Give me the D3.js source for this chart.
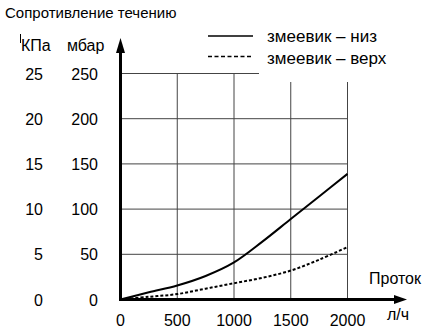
<!DOCTYPE html>
<html>
<head>
<meta charset="utf-8">
<script src="https://cdn.jsdelivr.net/npm/d3@7"></script>
<style>
  body { margin: 0; background: #fff; }
  svg { display: block; font-family: "Liberation Sans", Arial, sans-serif; }
</style>
</head>
<body>
<div id="chart"></div>
<script>
// Data (flow in l/h, resistance in mbar)
var flowLow = [0, 250, 500, 750, 1000, 1250, 1500, 1750, 2000];
var mbarLow = [0, 8, 15.5, 26, 41, 64, 89, 114, 139];
var flowUp = [0, 250, 500, 750, 1000, 1250, 1500, 1750, 2000];
var mbarUp = [0, 3, 6, 12, 18, 24, 32, 44, 58];
var xTicks = [0, 500, 1000, 1500, 2000];
var mbarTicks = [0, 50, 100, 150, 200, 250];
var kpaTicks = [0, 5, 10, 15, 20, 25];

var W = 425, H = 334;
var svg = d3.select("#chart").append("svg")
	.attr("width", W)
	.attr("height", H);

var x = d3.scaleLinear().domain([0, 2000]).range([120.5, 347.5]);
var y = d3.scaleLinear().domain([0, 250]).range([299.5, 73.5]);

// grid lines
svg.append("g")
	.selectAll("line")
	.data(mbarTicks.slice(1))
	.enter().append("line")
	.attr("x1", x(0)).attr("x2", x(2000))
	.attr("y1", d => y(d)).attr("y2", d => y(d))
	.attr("stroke", "#444").attr("stroke-width", 1);

svg.append("g")
	.selectAll("line")
	.data(xTicks.slice(1))
	.enter().append("line")
	.attr("x1", d => x(d)).attr("x2", d => x(d))
	.attr("y1", y(0)).attr("y2", y(250))
	.attr("stroke", "#444").attr("stroke-width", 1);

// white legend background hides top right corner of the grid
svg.append("rect")
	.attr("x", 259).attr("y", 0)
	.attr("width", W - 259).attr("height", 82)
	.attr("fill", "#fff");

// curves
var line = d3.line()
	.x(d => x(d[0]))
	.y(d => y(d[1]))
	.curve(d3.curveCatmullRom);

svg.append("path")
	.datum(d3.zip(flowLow, mbarLow))
	.attr("d", line)
	.attr("fill", "none")
	.attr("stroke", "#000")
	.attr("stroke-width", 2);

svg.append("path")
	.datum(d3.zip(flowUp, mbarUp))
	.attr("d", line)
	.attr("fill", "none")
	.attr("stroke", "#000")
	.attr("stroke-width", 2)
	.attr("stroke-dasharray", "3,2");

// axes with arrows
svg.append("line")
	.attr("x1", x(0)).attr("x2", x(0))
	.attr("y1", y(0) + 1.5).attr("y2", 48)
	.attr("stroke", "#000").attr("stroke-width", 3);
svg.append("path")
	.attr("d", "M" + x(0) + ",38 L" + (x(0) - 4.5) + ",53 L" + (x(0) + 4.5) + ",53 Z")
	.attr("fill", "#000");

svg.append("line")
	.attr("x1", x(0) - 1.5).attr("x2", 398)
	.attr("y1", y(0)).attr("y2", y(0))
	.attr("stroke", "#000").attr("stroke-width", 3);
svg.append("path")
	.attr("d", "M407," + y(0) + " L394," + (y(0) - 4.5) + " L394," + (y(0) + 4.5) + " Z")
	.attr("fill", "#000");

// tick labels
svg.append("g")
	.selectAll("text")
	.data(xTicks)
	.enter().append("text")
	.attr("x", d => x(d))
	.attr("y", 325.5)
	.attr("text-anchor", "middle")
	.style("font-size", "16px")
	.text(d => d);

svg.append("g")
	.selectAll("text")
	.data(mbarTicks)
	.enter().append("text")
	.attr("x", 98)
	.attr("y", d => y(d) + 6)
	.attr("text-anchor", "end")
	.style("font-size", "16px")
	.text(d => d);

svg.append("g")
	.selectAll("text")
	.data(kpaTicks)
	.enter().append("text")
	.attr("x", 43)
	.attr("y", (d, i) => y(mbarTicks[i]) + 6)
	.attr("text-anchor", "end")
	.style("font-size", "16px")
	.text(d => d);

// titles and units
svg.append("text")
	.attr("x", 5).attr("y", 18)
	.style("font-size", "15px")
	.text("Сопротивление течению");

svg.append("line")
	.attr("x1", 20.5).attr("x2", 20.5)
	.attr("y1", 34).attr("y2", 43)
	.attr("stroke", "#000").attr("stroke-width", 1);
svg.append("text")
	.attr("x", 21).attr("y", 51)
	.style("font-size", "16px")
	.text("КПа");
svg.append("text")
	.attr("x", 67).attr("y", 51)
	.style("font-size", "16px")
	.text("мбар");

svg.append("text")
	.attr("x", 369).attr("y", 284)
	.style("font-size", "16px")
	.text("Проток");
svg.append("text")
	.attr("x", 387).attr("y", 320)
	.style("font-size", "16px")
	.text("л/ч");

// legend
var legendRows = [
	{label: "змеевик – низ", dash: null, y: 36},
	{label: "змеевик – верх", dash: "4,2.5", y: 58}
];
var legend = svg.append("g");
legendRows.forEach(function(r) {
	legend.append("line")
		.attr("x1", 208).attr("x2", 253)
		.attr("y1", r.y - (r.dash ? 1.5 : 0)).attr("y2", r.y - (r.dash ? 1.5 : 0))
		.attr("stroke", "#000")
		.attr("stroke-width", 1.4)
		.attr("stroke-dasharray", r.dash);
	legend.append("text")
		.attr("x", 267).attr("y", r.y + 5.5)
		.style("font-size", "17px")
		.text(r.label);
});
</script>
</body>
</html>
